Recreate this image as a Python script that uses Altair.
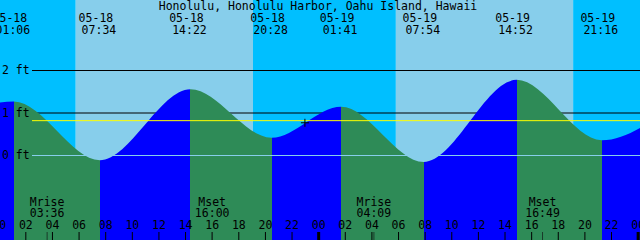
import altair as alt
import pandas as pd

# ---------------- data ----------------
TITLE = "Honolulu, Honolulu Harbor, Oahu Island, Hawaii"

# tide extremes (first and last lie just outside the visible window)
tide_dates = ["05-17", "05-18", "05-18", "05-18", "05-18", "05-19", "05-19", "05-19", "05-19", "05-20"]
tide_clock = ["19:00", "01:06", "07:34", "14:22", "20:28", "01:41", "07:54", "14:52", "21:16", "02:20"]
tide_ft = [0.70, 1.27, -0.11, 1.56, 0.42, 1.15, -0.15, 1.78, 0.36, 1.10]

# sunrise / sunset
sun_dates = ["05-18", "05-18", "05-19", "05-19"]
sun_clock = ["05:45", "19:04", "05:48", "19:07"]

# moon rise / set
moon_dates = ["05-18", "05-18", "05-19", "05-19"]
moon_clock = ["03:36", "16:00", "04:09", "16:49"]
moon_kind = ["Mrise", "Mset", "Mrise", "Mset"]

# current time marker
now_date, now_clock, now_ft = "05-18", "22:58", 0.77

mean_ft = 0.82
datum_levels = [0, 1, 2]
datum_labels = ["0 ft", "1 ft", "2 ft"]

hour_ticks = list(range(0, 50, 2))
hour_labels = [f"{h % 24:02d}" for h in hour_ticks]
midnight_ticks = [24, 48]

DAY_INDEX = {"05-17": -1, "05-18": 0, "05-19": 1, "05-20": 2}


def hours(date, clock):
    h, m = clock.split(":")
    return DAY_INDEX[date] * 24 + int(h) + int(m) / 60


X0 = 0.06
X1 = X0 + 48.08
Y_MIN, Y_MAX = -1.988, 3.659
FONT = "DejaVu Sans Mono"
FS = 11.5

NIGHT, DAY = "#00BFFF", "#87CEEB"
RISING, FALLING = "#0000FF", "#2E8B57"

x_scale = alt.Scale(domain=[X0, X1], nice=False, zero=False)
y_scale = alt.Scale(domain=[Y_MIN, Y_MAX], nice=False, zero=False)

# ---------------- tables ----------------
tide_t = [hours(d, c) for d, c in zip(tide_dates, tide_clock)]
tide_df = pd.DataFrame({"t": tide_t, "ft": tide_ft})

events_df = pd.DataFrame(
    {"t": tide_t, "date": tide_dates, "clock": tide_clock}
)
events_df = events_df[(events_df.t > X0 - 1) & (events_df.t < X1 + 1)]

sun_t = [hours(d, c) for d, c in zip(sun_dates, sun_clock)]
bounds = [X0 - 1] + sun_t + [X1 + 1]
sky_kind = ["night", "day", "night", "day", "night"]
sky_df = pd.DataFrame({"start": bounds[:-1], "end": bounds[1:], "kind": sky_kind})

moon_df = pd.DataFrame(
    {"t": [hours(d, c) for d, c in zip(moon_dates, moon_clock)],
     "kind": moon_kind, "clock": moon_clock}
)
hours_df = pd.DataFrame({"t": hour_ticks, "label": hour_labels})
mid_df = pd.DataFrame({"t": midnight_ticks})
datum_df = pd.DataFrame({"ft": datum_levels, "label": datum_labels})
now_df = pd.DataFrame({"t": [hours(now_date, now_clock)], "ft": [now_ft]})

# gradient stops for rising / falling water, from the extreme times
t_first, t_last = tide_t[0], tide_t[-1]
stops = []
for i in range(len(tide_t) - 1):
    col = RISING if tide_ft[i + 1] > tide_ft[i] else FALLING
    o0 = (tide_t[i] - t_first) / (t_last - t_first)
    o1 = (tide_t[i + 1] - t_first) / (t_last - t_first)
    stops.append(alt.GradientStop(offset=o0, color=col))
    stops.append(alt.GradientStop(offset=o1, color=col))
water_fill = alt.Gradient(gradient="linear", stops=stops, x1=0, x2=1, y1=0, y2=0)

X = lambda f: alt.X(f, scale=x_scale, axis=None)
Y = lambda f: alt.Y(f, scale=y_scale, axis=None)

# ---------------- layers ----------------
sky = alt.Chart(sky_df).mark_rect(clip=True, strokeWidth=0).encode(
    x=X("start:Q"), x2="end:Q",
    y=alt.value(0), y2=alt.value(240),
    color=alt.Color("kind:N", scale=alt.Scale(domain=["night", "day"], range=[NIGHT, DAY]), legend=None),
)

black_lines = alt.Chart(datum_df[datum_df.ft > 0]).mark_rule(color="black", strokeWidth=1).encode(
    y=Y("ft:Q"), x=alt.value(32), x2=alt.value(640)
)

water = alt.Chart(tide_df).mark_area(interpolate="monotone", clip=True, color=water_fill).encode(
    x=X("t:Q"), y=Y("ft:Q"), y2=alt.datum(Y_MIN)
)

zero_line = alt.Chart(datum_df[datum_df.ft == 0]).mark_rule(color=DAY, strokeWidth=1).encode(
    y=Y("ft:Q"), x=alt.value(32), x2=alt.value(640)
)
mean_line = alt.Chart(pd.DataFrame({"ft": [mean_ft]})).mark_rule(color="#FFFF00", strokeWidth=1).encode(
    y=Y("ft:Q"), x=alt.value(32), x2=alt.value(640)
)

hour_tick_marks = alt.Chart(hours_df).mark_rule(color="black", strokeWidth=1).encode(
    x=X("t:Q"), y=alt.value(232), y2=alt.value(240)
)
mid_marks = alt.Chart(mid_df).mark_rule(color="black", strokeWidth=3).encode(
    x=X("t:Q"), y=alt.value(232), y2=alt.value(240)
)
moon_marks = alt.Chart(moon_df).mark_rule(color="#1b3a2a", strokeWidth=1).encode(
    x=X("t:Q"), y=alt.value(232), y2=alt.value(240)
)

txt = dict(font=FONT, fontSize=FS, color="black", baseline="alphabetic")

hour_text = alt.Chart(hours_df).mark_text(align="center", **txt).encode(
    x=X("t:Q"), y=alt.value(229), text="label:N"
)
moon_kind_text = alt.Chart(moon_df).mark_text(align="center", **txt).encode(
    x=X("t:Q"), y=alt.value(206), text="kind:N"
)
moon_time_text = alt.Chart(moon_df).mark_text(align="center", **txt).encode(
    x=X("t:Q"), y=alt.value(217), text="clock:N"
)
datum_text = alt.Chart(datum_df).mark_text(align="left", dy=3.5, **txt).encode(
    x=alt.value(2), y=Y("ft:Q"), text="label:N"
)
date_text = alt.Chart(events_df).mark_text(align="center", dx=-4, **txt).encode(
    x=X("t:Q"), y=alt.value(22), text="date:N"
)
clock_text = alt.Chart(events_df).mark_text(align="center", dx=-1, **txt).encode(
    x=X("t:Q"), y=alt.value(34), text="clock:N"
)
title_text = alt.Chart(pd.DataFrame({"title": [TITLE]})).mark_text(align="center", **txt).encode(
    x=alt.value(318), y=alt.value(10), text="title:N"
)

now_mark = alt.Chart(now_df).mark_point(
    shape="M-1,0L1,0M0,-1L0,1", size=64, filled=False, color="black", strokeWidth=1, opacity=1
).encode(x=X("t:Q"), y=Y("ft:Q"))

chart = alt.layer(
    sky, black_lines, water, zero_line, mean_line,
    hour_tick_marks, mid_marks, moon_marks,
    hour_text, moon_kind_text, moon_time_text, datum_text,
    date_text, clock_text, title_text, now_mark,
).properties(
    width=640, height=240, padding=0, autosize="none"
).configure_view(stroke=None)

chart.save("out.html", embed_options={"renderer": "svg", "actions": False})
